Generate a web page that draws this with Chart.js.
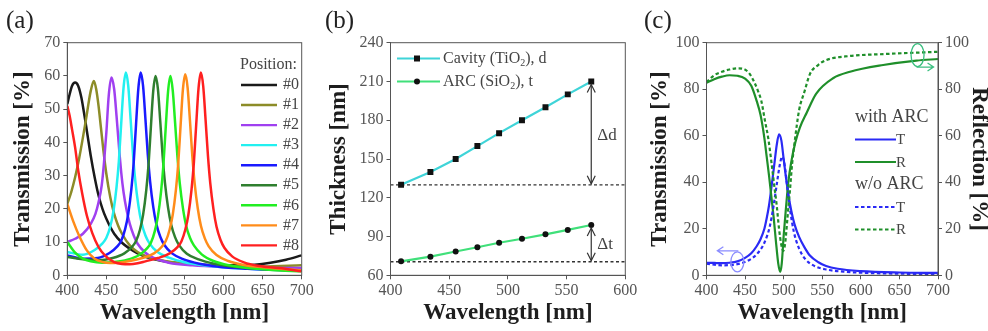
<!DOCTYPE html>
<html>
<head>
<meta charset="utf-8">
<script src="https://cdn.jsdelivr.net/npm/chart.js@4.4.0/dist/chart.umd.min.js"></script>
<style>
  html, body { margin: 0; padding: 0; background: #fff; overflow: hidden; }
  #wrap { position: relative; width: 988px; height: 331px; }
  #wrap canvas { position: absolute; top: 0; }
  .tag { position: absolute; top: 6px; font: 25px 'Liberation Serif', 'Times New Roman', serif; color: #222; line-height: 28px; }
</style>
</head>
<body>
<div id="wrap">
  <canvas id="chartA" width="325" height="331" style="left:0px"></canvas>
  <canvas id="chartB" width="320" height="331" style="left:325px"></canvas>
  <canvas id="chartC" width="343" height="331" style="left:645px"></canvas>
  <div class="tag" style="left:6px">(a)</div>
  <div class="tag" style="left:325px">(b)</div>
  <div class="tag" style="left:644px">(c)</div>
</div>
<script>
// ---- (a) transmission spectra for positions #0..#8 ----
const posLabels = ['#0', '#1', '#2', '#3', '#4', '#5', '#6', '#7', '#8'];
const posColors = ['#1a1a1a', '#8c8c28', '#a040f0', '#22f0f0', '#1a1aff', '#2f7f2f', '#22ee22', '#ff8c1a', '#ff2020'];

const wl0 = [400, 403, 406, 410, 414, 418, 422, 426, 430, 435, 440, 445, 450, 460, 470, 480, 490, 500, 520, 540, 560, 580, 600, 620, 640, 660, 680, 700];
const tr0 = [51.5, 54.5, 57, 58, 57, 53.5, 48, 42, 36, 29.5, 24, 20, 17, 12.5, 9.8, 8, 6.6, 5.6, 4.4, 3.7, 3.3, 3.1, 3, 3, 3.2, 3.8, 4.7, 6];

const wl1 = [400, 405, 410, 415, 420, 424, 427, 430, 434, 437, 440, 443, 446, 450, 455, 460, 465, 470, 480, 490, 500, 520, 550, 600, 650, 700];
const tr1 = [21.5, 25, 29.5, 35, 41.5, 47, 51.5, 55.5, 58.5, 56, 51, 44.5, 38, 30.5, 23.5, 18.5, 15, 12.5, 9, 7, 5.8, 4.5, 3.5, 2.8, 2.6, 3];

const wl2 = [400, 410, 420, 430, 436, 440, 444, 447, 450, 453, 456.5, 460, 463, 466, 469, 472, 476, 480, 485, 490, 500, 510, 530, 560, 600, 650, 700];
const tr2 = [10, 11, 12.5, 15.5, 18.5, 22, 27, 34, 43, 54, 59.5, 56, 48, 39, 31, 25, 19.5, 15.5, 12, 9.5, 6.8, 5.3, 3.8, 3, 2.5, 2.2, 2.2];

const wl3 = [400, 420, 435, 445, 450, 455, 459, 463, 466, 469, 472, 475, 478, 481, 484, 487, 491, 495, 500, 505, 515, 530, 550, 575, 610, 650, 700];
const tr3 = [7, 6.2, 7.6, 9.6, 11.3, 14.7, 19.2, 26.5, 34.4, 45.7, 56.5, 61, 57, 47.1, 36.6, 28.5, 21, 15.8, 12, 9.7, 7.1, 5.3, 3.9, 3, 2.2, 1.8, 1.5];

const wl4 = [400, 420, 439, 454, 464, 469, 474, 478, 482, 485, 488, 491, 494, 497, 500, 503, 506, 510, 514, 519, 524, 534, 549, 569, 594, 630, 670, 700];
const tr4 = [6, 5, 5.2, 6.7, 8.7, 10.4, 13.9, 18.5, 25.9, 34, 45.5, 56.4, 61, 56.9, 47, 36.4, 28.2, 20.6, 15.4, 11.6, 9.2, 6.6, 4.8, 3.5, 2.6, 2, 1.6, 1.5];

const wl5 = [400, 420, 440, 458, 473, 483, 488, 493, 497, 501, 504, 507, 510, 513, 516, 519, 522, 525, 529, 533, 538, 543, 553, 568, 588, 613, 650, 700];
const tr5 = [5.5, 4.8, 4.5, 5.2, 6.6, 8.6, 10.3, 13.7, 18.2, 25.5, 33.4, 44.7, 55.5, 60, 56, 46.2, 35.9, 27.8, 20.3, 15.2, 11.4, 9.1, 6.5, 4.8, 3.5, 2.6, 1.9, 1.4];

const wl6 = [400, 410, 420, 430, 445, 460, 477, 492, 502, 507, 512, 516, 520, 523, 526, 529, 532, 535, 538, 541, 544, 548, 552, 557, 562, 572, 587, 607, 632, 662, 700];
const tr6 = [10, 6.8, 5, 4.2, 3.8, 4, 4.7, 6.1, 8.1, 9.8, 13.3, 17.8, 25.2, 33.2, 44.6, 55.4, 60, 55.5, 45.8, 35.6, 27.6, 20.2, 15, 11.3, 9, 6.3, 4.3, 3, 2.2, 1.6, 1.2];

const wl7 = [400, 408, 415, 425, 435, 445, 455, 465, 480, 496, 511, 521, 526, 531, 535, 539, 542, 545, 548, 551, 554, 557, 560, 563, 567, 571, 576, 581, 591, 606, 626, 651, 680, 700];
const tr7 = [21.5, 16, 12, 7.5, 5, 4, 3.7, 3.8, 4.3, 5.2, 6.6, 8.6, 10.3, 13.8, 18.3, 25.7, 33.7, 45.1, 56, 60.5, 56.4, 46.5, 35.9, 27.7, 20.1, 14.9, 11.1, 8.7, 6.1, 4.3, 3.1, 2.4, 1.8, 1.5];

const wl8 = [400, 403, 406, 410, 414, 419, 425, 432, 440, 449, 460, 470, 480, 490, 500, 516, 531, 541, 546, 551, 555, 559, 562, 565, 568, 571, 574, 577, 580, 583, 587, 591, 596, 601, 611, 626, 646, 671, 700];
const tr8 = [51, 48, 44, 38.5, 31.5, 24.7, 18, 12.7, 8.5, 5.8, 4, 3.4, 3.3, 3.6, 4.2, 5.2, 6.6, 8.5, 10.2, 13.7, 18.3, 25.8, 33.9, 45.4, 56.4, 61, 56.8, 46.7, 36, 27.7, 20, 14.6, 10.7, 8.3, 5.7, 3.9, 2.8, 2.2, 1.2];

// ---- (b) layer thickness at each peak wavelength ----
const peakWl = [409, 434, 455.5, 474, 492.5, 512, 532, 551, 571];
const cavityD = [130, 140, 150, 160, 170, 180, 190, 200, 210];
const arcT = [70.8, 74.4, 78.4, 81.7, 85.2, 88.3, 91.7, 95.1, 98.9];
const arcBase = 70.5;

// ---- (c) spectra with and without ARC ----
const wlTa = [400, 410, 420, 430, 440, 450, 458, 465, 470, 475, 478, 481, 485, 488, 491, 494, 497, 500, 503, 506, 510, 514, 520, 527, 534, 545, 555, 570, 600, 650, 700];
const tWith = [5.4, 5.3, 5.2, 5.4, 6, 7.5, 9.5, 12.5, 15.5, 20, 24.5, 30, 40, 48, 56, 60.6, 58, 50, 42, 35, 27.5, 22, 16.5, 12, 8.5, 5.6, 4, 2.8, 1.8, 1.2, 1];
const wlTb = [400, 420, 440, 455, 465, 475, 482, 487, 491, 495, 498, 501, 504, 508, 513, 520, 528, 540, 555, 580, 620, 700];
const tWithout = [5, 4.3, 4.8, 6.5, 9, 14, 21, 30, 39, 47.5, 51, 48, 40, 29, 19, 11.5, 7, 4, 2.5, 1.5, 0.9, 0.5];
const wlRa = [400, 410, 420, 430, 440, 450, 458, 465, 470, 475, 478, 481, 484, 487, 490, 493, 495.5, 497.5, 500, 503, 506, 510, 515, 521, 530, 542, 564, 586, 629, 672, 700];
const rWith = [82.8, 84.3, 85.4, 86, 85.8, 84.6, 81.5, 75, 69, 59, 51, 43, 34, 25, 14.5, 5, 1.5, 5, 17, 29, 40, 49, 57, 63.5, 70, 78, 84.7, 87.5, 90.4, 92.3, 93];
const wlRb = [400, 410, 420, 430, 440, 447, 455, 462, 467, 471, 476, 480, 484, 488, 491, 494, 497, 499.5, 502, 505, 508, 511, 514.5, 520, 527, 534, 545, 555, 586, 629, 700];
const rWithout = [83, 86, 87.5, 88.5, 89, 88.8, 87, 83, 79, 75, 66, 59, 49, 38, 30, 20, 13, 10.5, 14, 25, 36, 48, 58, 71, 79, 86.5, 90.5, 92.5, 94.3, 95.1, 96.1];

const serif = "'Liberation Serif', 'Times New Roman', serif";
const pts = (xs, ys) => xs.map((x, i) => ({ x: x, y: ys[i] }));

function axis(min, max, step, title, titlePad, size, extra) {
  return Object.assign({
    type: 'linear',
    min: min,
    max: max,
    ticks: { stepSize: step, autoSkip: false, color: '#555', padding: 3, font: { family: serif, size: 16 } },
    grid: { drawOnChartArea: false, drawTicks: true, tickLength: 4, tickColor: '#555' },
    border: { color: '#555', width: 1 },
    title: {
      display: true, text: title, color: '#1e1e1e', padding: titlePad,
      font: { family: serif, size: 23, weight: 'bold', lineHeight: 1 }
    },
    afterFit: s => { if (s.isHorizontal()) s.height = size; else s.width = size; }
  }, extra || {});
}

function xAxis(max) {
  return axis(400, max, 50, 'Wavelength [nm]', { bottom: 6 }, 55.7, { ticks: { stepSize: 50, autoSkip: false, color: '#555', padding: 2, font: { family: serif, size: 16 } } });
}

// box around the plot area
const frame = {
  id: 'frame',
  afterDatasetsDraw(chart) {
    const { ctx, chartArea: a } = chart;
    ctx.save();
    ctx.strokeStyle = '#555';
    ctx.lineWidth = 1;
    ctx.strokeRect(a.left, a.top, a.right - a.left, a.bottom - a.top);
    ctx.restore();
  }
};

const common = {
  responsive: false,
  animation: false,
  events: [],
  plugins: { legend: { display: false }, tooltip: { enabled: false } },
  elements: { point: { radius: 0 }, line: { borderWidth: 2.2, cubicInterpolationMode: 'monotone' } }
};

// ---------------- chart (a) ----------------
const specA = [[wl0, tr0], [wl1, tr1], [wl2, tr2], [wl3, tr3], [wl4, tr4], [wl5, tr5], [wl6, tr6], [wl7, tr7], [wl8, tr8]];

const legendA = {
  id: 'legendA',
  afterDraw(chart) {
    const ctx = chart.ctx;
    ctx.save();
    ctx.font = '16px ' + serif;
    ctx.fillStyle = '#444';
    ctx.textBaseline = 'middle';
    ctx.fillText('Position:', 240, 65);
    posLabels.forEach((lab, i) => {
      const y = 85 + i * 20.05;
      ctx.strokeStyle = posColors[i];
      ctx.lineWidth = 2.4;
      ctx.beginPath();
      ctx.moveTo(241, y);
      ctx.lineTo(277, y);
      ctx.stroke();
      ctx.fillText(lab, 283, y);
    });
    ctx.restore();
  }
};

new Chart(document.getElementById('chartA'), {
  type: 'line',
  data: {
    datasets: specA.map((s, i) => ({
      label: posLabels[i],
      data: pts(s[0], s[1]),
      borderColor: posColors[i],
      borderWidth: 2.5,
      order: 8 - i
    }))
  },
  options: Object.assign({}, common, {
    layout: { padding: { left: 5, top: 42.7, right: 23.3, bottom: 0 } },
    scales: {
      x: xAxis(700),
      y: axis(0, 70, 10, 'Transmission [%]', { top: 6.5 }, 62.3)
    }
  }),
  plugins: [frame, legendA]
});

// ---------------- chart (b) ----------------
function arrowHead(ctx, x, y, dir) {
  ctx.beginPath();
  ctx.moveTo(x - 4, y - dir * 8);
  ctx.lineTo(x, y);
  ctx.lineTo(x + 4, y - dir * 8);
  ctx.stroke();
}

function subText(ctx, parts, x, y) {
  // parts: [text, isSubscript]
  parts.forEach(p => {
    if (p[1]) {
      ctx.font = '10px ' + serif;
      ctx.fillText(p[0], x, y + 5);
    } else {
      ctx.font = '16px ' + serif;
      ctx.fillText(p[0], x, y);
    }
    x += ctx.measureText(p[0]).width;
  });
}

const markB = {
  id: 'markB',
  afterDraw(chart) {
    const { ctx, scales: { x, y } } = chart;
    const ax = x.getPixelForValue(peakWl[peakWl.length - 1]);
    ctx.save();
    ctx.strokeStyle = '#333';
    ctx.lineWidth = 1.2;
    // thickness range arrows
    [[cavityD[0], cavityD[cavityD.length - 1]], [arcBase, arcT[arcT.length - 1]]].forEach(r => {
      const y0 = y.getPixelForValue(r[0]) - 1;
      const y1 = y.getPixelForValue(r[1]) + 3;
      ctx.beginPath();
      ctx.moveTo(ax, y0);
      ctx.lineTo(ax, y1);
      ctx.stroke();
      arrowHead(ctx, ax, y1, -1);
      arrowHead(ctx, ax, y0, 1);
    });
    ctx.fillStyle = '#444';
    ctx.textBaseline = 'middle';
    ctx.font = '17px ' + serif;
    ctx.fillText('\u0394d', ax + 6, y.getPixelForValue(168.5));
    ctx.fillText('\u0394t', ax + 6, y.getPixelForValue(84));

    // legend
    const rows = [
      { c: '#3fd4d8', s: 'rect', t: [['Cavity (TiO', 0], ['2', 1], ['), d', 0]], y: 58.5 },
      { c: '#40e07a', s: 'circle', t: [['ARC (SiO', 0], ['2', 1], ['), t', 0]], y: 81.5 }
    ];
    rows.forEach(r => {
      ctx.strokeStyle = r.c;
      ctx.lineWidth = 2.2;
      ctx.beginPath();
      ctx.moveTo(72, r.y);
      ctx.lineTo(115, r.y);
      ctx.stroke();
      ctx.fillStyle = '#111';
      ctx.beginPath();
      if (r.s === 'rect') ctx.rect(89, r.y - 3, 6, 6);
      else ctx.arc(92, r.y, 3, 0, Math.PI * 2);
      ctx.fill();
      ctx.fillStyle = '#444';
      subText(ctx, r.t, 118, r.y);
    });
    ctx.restore();
  }
};

new Chart(document.getElementById('chartB'), {
  type: 'line',
  data: {
    datasets: [
      {
        data: pts(peakWl, cavityD), borderColor: '#3fd4d8', cubicInterpolationMode: 'default', tension: 0,
        pointStyle: 'rect', pointRadius: 4.2, pointBackgroundColor: '#111', pointBorderColor: '#111', pointBorderWidth: 0
      },
      {
        data: pts(peakWl, arcT), borderColor: '#40e07a', cubicInterpolationMode: 'default', tension: 0,
        pointStyle: 'circle', pointRadius: 3, pointBackgroundColor: '#111', pointBorderColor: '#111', pointBorderWidth: 0
      },
      {
        data: pts([400, 600], [cavityD[0], cavityD[0]]), borderColor: '#333', borderWidth: 1.3, borderDash: [3, 2.5]
      },
      {
        data: pts([400, 600], [arcBase, arcBase]), borderColor: '#333', borderWidth: 1.3, borderDash: [3, 2.5]
      }
    ]
  },
  options: Object.assign({}, common, {
    layout: { padding: { left: 0, top: 42.7, right: 19.7, bottom: 0 } },
    scales: {
      x: xAxis(600),
      y: axis(60, 240, 30, 'Thickness [nm]', { top: 2.5 }, 65.5)
    }
  }),
  plugins: [frame, markB]
});

// ---------------- chart (c) ----------------
const blueC = '#2a2af5';
const greenC = '#1f8f2a';

const markC = {
  id: 'markC',
  afterDraw(chart) {
    const { ctx, scales: { x, y, y2 } } = chart;
    ctx.save();
    // axis markers: ellipse + arrow toward the matching axis
    const bx = x.getPixelForValue(440), by = y.getPixelForValue(5.8);
    ctx.strokeStyle = '#8a8cff';
    ctx.lineWidth = 1.3;
    ctx.beginPath();
    ctx.ellipse(bx, by, 6.5, 10, 0, 0, Math.PI * 2);
    ctx.stroke();
    ctx.beginPath();
    ctx.moveTo(bx + 1, by - 11);
    ctx.lineTo(bx - 20, by - 11);
    ctx.moveTo(bx - 14, by - 15);
    ctx.lineTo(bx - 20, by - 11);
    ctx.lineTo(bx - 14, by - 7);
    ctx.stroke();

    const gx = x.getPixelForValue(673.5), gy = y2.getPixelForValue(94.7);
    ctx.strokeStyle = '#3cbf80';
    ctx.beginPath();
    ctx.ellipse(gx, gy, 6.5, 11.5, 0, 0, Math.PI * 2);
    ctx.stroke();
    ctx.beginPath();
    ctx.moveTo(gx - 1, gy + 12);
    ctx.lineTo(gx + 16, gy + 12);
    ctx.moveTo(gx + 10, gy + 8);
    ctx.lineTo(gx + 16, gy + 12);
    ctx.lineTo(gx + 10, gy + 16);
    ctx.stroke();

    // legend
    ctx.textBaseline = 'middle';
    ctx.fillStyle = '#444';
    ctx.font = '18px ' + serif;
    ctx.fillText('with ARC', 210, 117);
    ctx.fillText('w/o ARC', 210, 184.5);
    const rows = [
      [blueC, [], 'T', 139.5], [greenC, [], 'R', 162],
      [blueC, [3.5, 2.5], 'T', 207], [greenC, [3.5, 2.5], 'R', 229.5]
    ];
    ctx.font = '15px ' + serif;
    rows.forEach(r => {
      ctx.strokeStyle = r[0];
      ctx.lineWidth = 2.2;
      ctx.setLineDash(r[1]);
      ctx.beginPath();
      ctx.moveTo(210, r[3]);
      ctx.lineTo(251, r[3]);
      ctx.stroke();
      ctx.fillText(r[2], 251, r[3] + 1);
    });
    ctx.restore();
  }
};

new Chart(document.getElementById('chartC'), {
  type: 'line',
  data: {
    datasets: [
      { data: pts(wlRb, rWithout), borderColor: greenC, borderDash: [3.5, 2.5], yAxisID: 'y2' },
      { data: pts(wlTb, tWithout), borderColor: blueC, borderDash: [3.5, 2.5], yAxisID: 'y' },
      { data: pts(wlRa, rWith), borderColor: greenC, yAxisID: 'y2' },
      { data: pts(wlTa, tWith), borderColor: blueC, yAxisID: 'y' }
    ]
  },
  options: Object.assign({}, common, {
    layout: { padding: { left: 0, top: 42.7, right: 0, bottom: 0 } },
    scales: {
      x: xAxis(700),
      y: axis(0, 100, 20, 'Transmission [%]', { top: 3.5 }, 61.5, { position: 'left' }),
      y2: axis(0, 100, 20, 'Reflection [%]', { top: -2.5 }, 50, { position: 'right' })
    }
  }),
  plugins: [frame, markC]
});
</script>
</body>
</html>
